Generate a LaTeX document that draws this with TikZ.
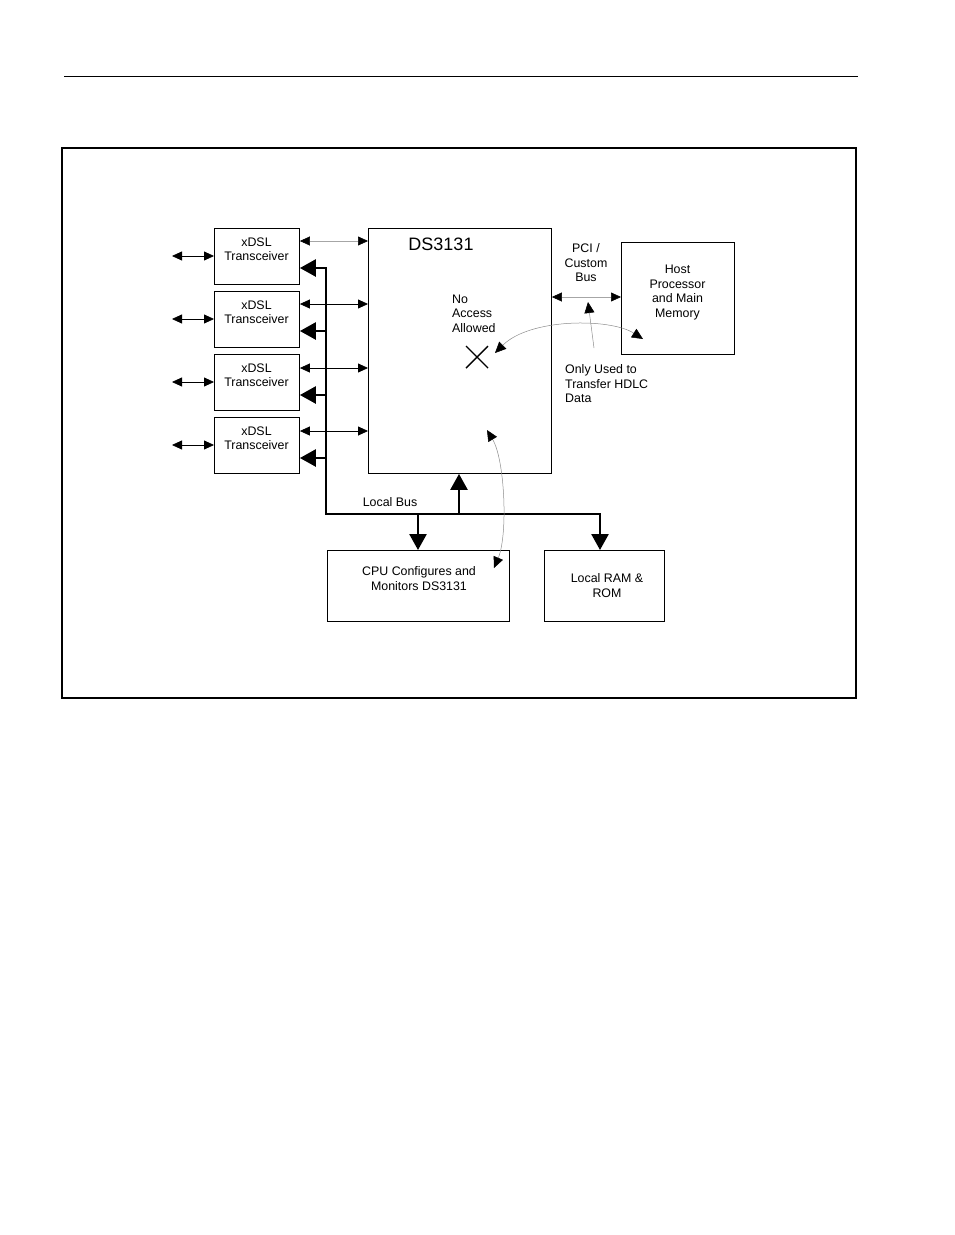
\documentclass[tikz,border=0pt]{standalone}
\usepackage{fontspec}
\setmainfont{Liberation Sans}
\usetikzlibrary{arrows.meta,calc}
\begin{document}
\begin{tikzpicture}[x=1pt,y=-1pt,
  box/.style={draw=black,line width=0.9pt,inner sep=0pt,anchor=north west},
  txt/.style={font=\fontsize{12.4}{14.5}\selectfont,align=center,inner sep=0pt},
  txtl/.style={font=\fontsize{12.4}{14.5}\selectfont,align=left,inner sep=0pt},
  sarr/.style={line width=0.8pt,{Triangle[length=10pt,width=9pt]}-{Triangle[length=10pt,width=9pt]}},
  garr/.style={line width=0.6pt,draw=black!35,{Triangle[length=10pt,width=9pt,color=black]}-{Triangle[length=10pt,width=9pt,color=black]}},
  gcurve/.style={line width=0.5pt,draw=black!45,{Triangle[length=11pt,width=10pt,color=black]}-{Triangle[length=11pt,width=10pt,color=black]}},
  garrone/.style={line width=0.5pt,draw=black!45,-{Triangle[length=11pt,width=10pt,color=black]}},
  bus/.style={line width=2.6pt},
  bigarr/.style={line width=2.6pt,-{Triangle[length=16pt,width=17pt]}}
]
\useasboundingbox (0,0) rectangle (954,1235);
% top rule and frame
\draw[line width=0.9pt] (64,76) -- (858,76);
\draw[line width=1.4pt] (62,148) rectangle (856,698);

% boxes
\node[box,minimum width=85pt,minimum height=56pt] (x1) at (214,228) {};
\node[box,minimum width=85pt,minimum height=56pt] (x2) at (214,291) {};
\node[box,minimum width=85pt,minimum height=56pt] (x3) at (214,354) {};
\node[box,minimum width=85pt,minimum height=56pt] (x4) at (214,417) {};
\node[box,minimum width=183pt,minimum height=245pt] (ds) at (368,228) {};
\node[box,minimum width=113pt,minimum height=112pt] (host) at (621,242) {};
\node[box,minimum width=182pt,minimum height=71pt] (cpu) at (327,550) {};
\node[box,minimum width=120pt,minimum height=71pt] (ram) at (544,550) {};

% texts
\node[txt] (t1) at (256.5,249) {xDSL\\Transceiver};
\node[txt] (t2) at (256.5,312) {xDSL\\Transceiver};
\node[txt] (t3) at (256.5,375) {xDSL\\Transceiver};
\node[txt] (t4) at (256.5,438) {xDSL\\Transceiver};
\node[font=\fontsize{18}{20}\selectfont,inner sep=0pt] (dsl) at (441,244.5) {DS3131};
\node[txtl,anchor=west] (noacc) at (452,313.5) {No\\Access\\Allowed};
\node[txt] (pci) at (586,263) {PCI /\\Custom\\Bus};
\node[txt] (hostt) at (677.5,292.5) {Host\\Processor\\and Main\\Memory};
\node[txtl,anchor=west] (only) at (565,384) {Only Used to\\Transfer HDLC\\Data};
\node[txt] (cput) at (419,578.5) {CPU Configures and\\Monitors DS3131};
\node[txt] (ramt) at (607,585.5) {Local RAM \&\\ROM};
\node[txt] (lbus) at (390,502) {Local Bus};

% line side arrows
\foreach \n/\y in {x1/256,x2/319,x3/382,x4/445}{
  \coordinate (l\n) at (172,\y);
  \draw[sarr] (l\n) -- (\n.west |- 0,\y);
}
% transceiver to DS3131
\draw[garr] (x1.east |- 0,241) -- (ds.west |- 0,241);
\draw[sarr] (x2.east |- 0,304) -- (ds.west |- 0,304);
\draw[sarr] (x3.east |- 0,368) -- (ds.west |- 0,368);
\draw[sarr] (x4.east |- 0,431) -- (ds.west |- 0,431);

% local bus
\coordinate (b1) at (326,268);
\coordinate (b2) at (326,331);
\coordinate (b3) at (326,395);
\coordinate (b4) at (326,458);
\coordinate (bc) at (326,514);
\coordinate (bds) at (459,514);
\coordinate (bcpu) at (418,514);
\coordinate (bram) at (600,514);
\draw[bus,line cap=rect] (b1) -- (bc) -- (bram);
\draw[bigarr] (b1) -- (x1.east |- b1);
\draw[bigarr] (b2) -- (x2.east |- b2);
\draw[bigarr] (b3) -- (x3.east |- b3);
\draw[bigarr] (b4) -- (x4.east |- b4);
\draw[bigarr] (bds) -- (bds |- ds.south);
\draw[bigarr] (bcpu) -- (bcpu |- cpu.north);
\draw[bigarr] (bram) -- (bram |- ram.north);

% PCI bus
\draw[garr] (ds.east |- 0,297) -- (host.west |- 0,297);

% X mark
\coordinate (xm) at (477,357);
\draw[line width=1.4pt] ($(xm)+(-11,-11)$) -- ($(xm)+(11,11)$);
\draw[line width=1.4pt] ($(xm)+(-11,11)$) -- ($(xm)+(11,-11)$);

% curved annotation arrows
\coordinate (ch) at (643,339);
\coordinate (cx) at (495,353);
\draw[gcurve] (ch) .. controls (610,318) and (530,318) .. (cx);
\coordinate (oa) at (594,348);
\coordinate (ob) at (588,302);
\draw[garrone] (oa) -- (ob);
\coordinate (vt) at (487,430);
\coordinate (vb) at (494,568);
\draw[gcurve] (vt) .. controls (505,460) and (508,535) .. (vb);
\end{tikzpicture}
\end{document}
